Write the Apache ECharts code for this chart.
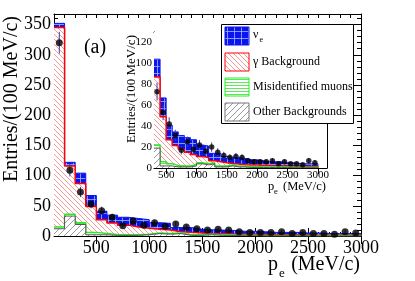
<!DOCTYPE html>
<html><head><meta charset="utf-8">
<script src="https://cdn.jsdelivr.net/npm/echarts@6/dist/echarts.min.js"></script>
<style>html,body{margin:0;padding:0;background:#fff}#c{width:415px;height:281px}</style>
</head><body><div id="c"></div>
<script>
// ---- data (bins of 100 MeV/c, lower edges) ----
const binLow = [100,200,300,400,500,600,700,800,900,1000,1100,1200,1300,1400,1500,1600,1700,1800,1900,2000,2100,2200,2300,2400,2500,2600,2700,2800,2900];
const binWidth = 100;
const otherBkg = [12,33,19,2,2,1,1,1,2,4,3,4,1,1,2,1,1,0.5,0.5,0.5,0.5,0.5,0.5,0.5,0.3,0.3,0.3,0.3,0.3];
const misMuons = [3,3,3,4,2,1.5,1,1,1,1,1,1,1,1,0.8,0.8,0.7,0.6,0.6,0.5,0.5,0.5,0.5,0.5,0.4,0.4,0.4,0.4,0.4];
const gammaBkg = [330,80,65,43,23,19,16,13,10,6,6,2,4,3,1.5,2,1.5,1.8,1.7,1.5,1.5,1.2,1,1,1,1,0.8,0.8,0.8];
const nueSig   = [7,6,17,18,14,13,13,14,14,11,11,7,8,6,6,6,6,5,5,4.5,3.5,3.8,4,3,3.3,2.5,2.5,2.5,2.5];
const dataVal  = [320,109,73,53,42,31,17,25,18,22,16,20,15,12,10,11,10,7,6,6,6,7,4,6,4,4,3,7,5];
const dataErr  = [18,10.4,8.5,7.3,6.5,5.6,4.1,5,4.2,4.7,4,4.5,3.9,3.5,3.2,3.3,3.2,2.6,2.4,2.4,2.4,2.6,2,2.4,2,2,1.7,2.6,2.2];
const mainXLabels = [500,1000,1500,2000,2500,3000];
const mainYLabels = [0,50,100,150,200,250,300,350];
const insetXLabels = [500,1000,1500,2000,2500,3000];
const insetYLabels = [0,20,40,60,80,100,120];
const legendNames = ['ν', 'γ Background', 'Misidentified muons', 'Other Backgrounds'];

const FONT = 'Liberation Serif';

// ---- fill patterns ----
function pat(w,h,bg,draw){const c=document.createElement('canvas');c.width=w;c.height=h;const g=c.getContext('2d');g.fillStyle=bg;g.fillRect(0,0,w,h);draw(g,w,h);return c;}
const nuePat = pat(7,7,'#0b14f0',(g,w,h)=>{g.fillStyle='rgba(150,175,255,0.85)';g.fillRect(0,3,w,1);g.fillRect(3,0,1,h);});
const gamPat = pat(5,5,'#ffffff',(g,w,h)=>{g.strokeStyle='#f39a9a';g.lineWidth=1;g.beginPath();for(let k=-1;k<=1;k++){g.moveTo(k*w,0);g.lineTo(k*w+w,h);}g.stroke();});
const muPat  = pat(3,3,'#ffffff',(g,w,h)=>{g.fillStyle='#5fe85f';g.fillRect(0,1,w,1);});
const othPat = pat(6,6,'#ffffff',(g,w,h)=>{g.strokeStyle='#9a9a9a';g.lineWidth=1;g.beginPath();for(let k=-1;k<=1;k++){g.moveTo(k*w,h);g.lineTo(k*w+w,0);}g.stroke();});
const P = c => ({image:c, repeat:'repeat'});

// cumulative stack levels (ROOT THStack style)
const cum = arrs => binLow.map((_,i)=>arrs.reduce((s,a)=>s+a[i],0));
const lvlOther = cum([otherBkg]);
const lvlMuon  = cum([otherBkg,misMuons]);
const lvlGamma = cum([otherBkg,misMuons,gammaBkg]);
const lvlTotal = cum([otherBkg,misMuons,gammaBkg,nueSig]);

function stepData(level, minLow){
  const d=[];
  binLow.forEach((x,i)=>{ if(x>=minLow) d.push([x, level[i]]); });
  const last = binLow.length-1;
  d.push([binLow[last]+binWidth, level[last]]);
  d.push([binLow[last]+binWidth, 0]);
  return d;
}
function stepSeries(level, xi, yi, minLow, lineColor, lw, fill, z){
  return {type:'line', xAxisIndex:xi, yAxisIndex:yi, data:stepData(level,minLow), step:'end', symbol:'none',
    lineStyle:{color:lineColor,width:lw}, areaStyle:{color:P(fill),opacity:1,origin:'start'}, z:z, silent:true, clip:true};
}
function pointsData(minLow){ const d=[]; binLow.forEach((x,i)=>{ if(x>=minLow) d.push([x+binWidth/2, dataVal[i], dataErr[i]]); }); return d; }
function errSeries(xi, yi, minLow){
  return {type:'custom', xAxisIndex:xi, yAxisIndex:yi, data:pointsData(minLow), encode:{x:0,y:1}, z:6, silent:true,
    renderItem:(params, api)=>{ const x=api.value(0), y=api.value(1), e=api.value(2);
      const p1=api.coord([x,y-e]), p2=api.coord([x,y+e]);
      return {type:'line', shape:{x1:p1[0],y1:p1[1],x2:p2[0],y2:p2[1]}, style:{stroke:'#3c3caa',lineWidth:1}}; }};
}
function ptSeries(xi, yi, minLow, size){
  return {type:'scatter', xAxisIndex:xi, yAxisIndex:yi, data:pointsData(minLow).map(p=>[p[0],p[1]]), symbolSize:size, itemStyle:{color:'#000'}, z:7, silent:true, clip:true};
}

// axes helpers
function xPair(grid, min, max, pos, minorInt, majors, labelOn, fs, margin, majLen, minLen){
  return [
    {gridIndex:grid, type:'value', position:pos, min, max, interval:minorInt,
     axisLine:{show:true,onZero:false,lineStyle:{color:'#000',width:1}},
     axisTick:{show:true,inside:true,length:minLen,lineStyle:{color:'#000'}},
     axisLabel:labelOn?{show:true,formatter:v=>majors.includes(v)?String(v):'',fontFamily:FONT,fontSize:fs,color:'#000',margin,showMinLabel:true,showMaxLabel:true}:{show:false},
     splitLine:{show:false}},
    {gridIndex:grid, type:'value', position:pos, min, max,
     axisLine:{show:false}, axisTick:{show:true,inside:true,length:majLen,customValues:majors,lineStyle:{color:'#000'}},
     axisLabel:{show:false}, splitLine:{show:false}}
  ];
}
function yPair(grid, min, max, pos, minorInt, majors, labelOn, fs, margin, majLen, minLen){
  return [
    {gridIndex:grid, type:'value', position:pos, min, max, interval:minorInt,
     axisLine:{show:true,onZero:false,lineStyle:{color:'#000',width:1}},
     axisTick:{show:true,inside:true,length:minLen,lineStyle:{color:'#000'}},
     axisLabel:labelOn?{show:true,formatter:v=>majors.includes(v)?String(v):'',fontFamily:FONT,fontSize:fs,color:'#000',margin,showMinLabel:true,showMaxLabel:false}:{show:false},
     splitLine:{show:false}},
    {gridIndex:grid, type:'value', position:pos, min, max,
     axisLine:{show:false}, axisTick:{show:true,inside:true,length:majLen,customValues:majors,lineStyle:{color:'#000'}},
     axisLabel:{show:false}, splitLine:{show:false}}
  ];
}

const xAxes = [
  ...xPair(0,100,3000,'bottom',100,mainXLabels,true,18,3,8,4),   // 0,1
  ...xPair(0,100,3000,'top',100,mainXLabels,false,18,3,8,4),     // 2,3
  ...xPair(1,300,3150,'bottom',100,insetXLabels,true,11,2,6,3),  // 4,5
  ...xPair(1,300,3150,'top',100,insetXLabels,false,11,2,6,3)     // 6,7
];
const yAxes = [
  ...yPair(0,0,367.5,'left',10,mainYLabels,true,18,3,8,4),   // 0,1
  ...yPair(0,0,367.5,'right',10,mainYLabels,false,18,3,8,4), // 2,3
  ...yPair(1,0,130,'left',5,insetYLabels,true,11,2,6,3),     // 4,5
  ...yPair(1,0,130,'right',5,insetYLabels,false,11,2,6,3)    // 6,7
];

const series = [
  stepSeries(lvlTotal,0,0,0,'#0b14f0',1,nuePat,2),
  stepSeries(lvlGamma,0,0,0,'#ff0000',1.5,gamPat,3),
  stepSeries(lvlMuon,0,0,0,'#22ee22',1.5,muPat,4),
  stepSeries(lvlOther,0,0,0,'#555555',1,othPat,5),
  errSeries(0,0,0), ptSeries(0,0,0,7),
  stepSeries(lvlTotal,4,4,300,'#0b14f0',1,nuePat,12),
  stepSeries(lvlGamma,4,4,300,'#ff0000',1.5,gamPat,13),
  stepSeries(lvlMuon,4,4,300,'#22ee22',1.5,muPat,14),
  stepSeries(lvlOther,4,4,300,'#555555',1,othPat,15),
  Object.assign(errSeries(4,4,300),{z:16}), Object.assign(ptSeries(4,4,300,5.5),{z:17})
];

function txt(text, x, y, size, align, valign, rot, z){
  return {type:'text', x, y, rotation:rot||0, z:z||50,
    style:{text, x:0, y:0, fill:'#000', font:size+'px "'+FONT+'"', fontFamily:FONT, fontSize:size,
      textAlign:align, align:align, textVerticalAlign:valign, verticalAlign:valign}};
}
function swatch(x,y,fill,stroke){ return {type:'rect', z:101, shape:{x,y,width:24,height:18}, style:{fill:P(fill), stroke:stroke, lineWidth:1}}; }

const graphic = [
  txt('Entries/(100 MeV/c)', 12, 99, 20, 'center', 'middle', Math.PI/2),
  txt('p', 268, 265, 20, 'left', 'middle'),
  txt('e', 279, 274, 13, 'left', 'middle'),
  txt('(MeV/c)', 360, 265, 20, 'right', 'middle'),
  txt('(a)', 95, 48, 20, 'center', 'middle'),
  txt('Entries/(100 MeV/c)', 132, 89, 13, 'center', 'middle', Math.PI/2),
  txt('p', 268, 187, 12.5, 'left', 'middle'),
  txt('e', 274, 192, 8.5, 'left', 'middle'),
  txt('(MeV/c)', 326, 187, 12.5, 'right', 'middle'),
  {type:'rect', z:100, shape:{x:221.5,y:24.5,width:132,height:99}, style:{fill:'#fff',stroke:'#000',lineWidth:1}},
  swatch(225,27,nuePat,'#0b14f0'),
  swatch(225,53,gamPat,'#ff0000'),
  swatch(225,78,muPat,'#22ee22'),
  swatch(225,103,othPat,'#777777'),
  txt(legendNames[0], 253, 35, 12, 'left', 'middle', 0, 102),
  txt('e', 259.5, 39.5, 8, 'left', 'middle', 0, 102),
  txt(legendNames[1], 253, 61.5, 12, 'left', 'middle', 0, 102),
  txt(legendNames[2], 253, 87, 12, 'left', 'middle', 0, 102),
  txt(legendNames[3], 253, 111.5, 12, 'left', 'middle', 0, 102)
];

const chart = echarts.init(document.getElementById('c'), null, {renderer:'canvas', width:415, height:281});
chart.setOption({
  animation:false,
  backgroundColor:'#fff',
  grid:[
    {left:54, top:14, width:307, height:222, containLabel:false},
    {left:154, top:32, width:173, height:136, containLabel:false, show:true, backgroundColor:'#fff', borderWidth:0, z:8}
  ],
  xAxis:xAxes, yAxis:yAxes, series, graphic
});
</script></body></html>
